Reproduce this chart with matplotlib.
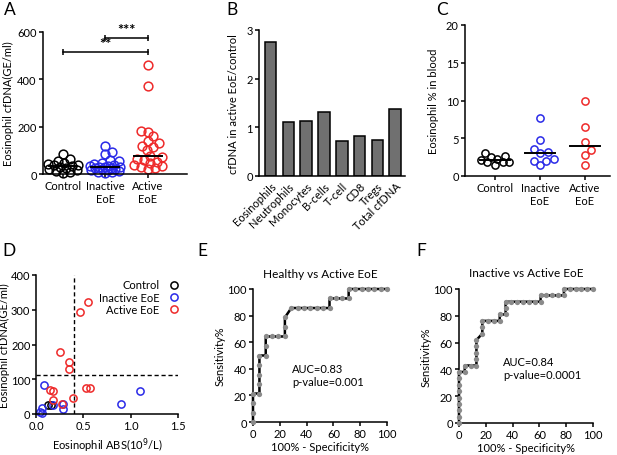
import numpy as np
import matplotlib
matplotlib.use("Agg")
import matplotlib.pyplot as plt

plt.rcParams['font.family'] = ['Lato', 'DejaVu Sans']
plt.rcParams['font.size'] = 8
plt.rcParams['axes.linewidth'] = 1.1
plt.rcParams['xtick.major.width'] = 1.1
plt.rcParams['ytick.major.width'] = 1.1
plt.rcParams['xtick.major.size'] = 3
plt.rcParams['ytick.major.size'] = 3

BLACK = '#000000'
BLUE = '#2a2ae8'
RED = '#ee2a2a'

# ---- panel A: eosinophil cfDNA (GE/ml)
a_groups = ['Control', 'Inactive\nEoE', 'Active\nEoE']
a_control = [85, 62, 55, 48, 42, 40, 36, 32, 28, 25, 22, 18, 12, 8, 5]
a_inactive = [120, 95, 85, 60, 55, 48, 42, 38, 35, 32, 30, 28, 28, 25, 25, 22, 20, 18, 15, 12, 10, 8, 5]
a_active = [460, 370, 180, 178, 160, 140, 130, 120, 115, 100, 75, 70, 65, 60, 50, 45, 40, 35, 30, 25, 20]

# ---- panel B: ratio active / control
b_cells = ['Eosinophils', 'Neutrophils', 'Monocytes', 'B-cells', 'T-cell', 'CD8', 'Tregs', 'Total cfDNA']
b_ratio = [2.75, 1.10, 1.12, 1.32, 0.72, 0.83, 0.75, 1.37]

# ---- panel C: eosinophil % in blood
c_control = [3.1, 2.6, 2.5, 2.3, 2.1, 1.9, 1.8, 1.8, 1.5]
c_inactive = [7.7, 4.8, 3.6, 3.2, 3.0, 2.3, 2.0, 2.0, 1.4]
c_active = [9.9, 6.5, 4.5, 3.4, 2.8, 1.5]

# ---- panel D: cfDNA vs absolute count
d_ctrl_x = [0.13, 0.16]
d_ctrl_y = [25, 26]
d_inact_x = [0.085, 0.04, 0.06, 0.06, 0.18, 0.29, 0.28, 0.90, 1.10]
d_inact_y = [83, 7, 3, 16, 25, 29, 14, 28, 66]
d_act_x = [0.55, 0.46, 0.25, 0.35, 0.35, 0.15, 0.18, 0.18, 0.39, 0.53, 0.57, 0.27]
d_act_y = [323, 294, 178, 149, 130, 69, 66, 40, 45, 75, 75, 30]
d_cut_x = 0.40
d_cut_y = 111

# ---- panel E / F: ROC curves (100% - specificity, sensitivity)
e_fpr = [0, 0, 0, 0, 4.8, 4.8, 4.8, 4.8, 4.8, 9.5, 9.5, 9.5, 14.3, 19.0, 23.8, 23.8, 23.8,
         28.6, 33.3, 38.1, 42.9, 47.6, 52.4, 57.1, 57.1, 61.9, 66.7, 71.4, 71.4,
         76.2, 81.0, 85.7, 90.5, 95.2, 100]
e_tpr = [0, 7.1, 14.3, 21.4, 21.4, 28.6, 35.7, 42.9, 50.0, 50.0, 57.1, 64.3, 64.3, 64.3, 64.3, 71.4, 78.6,
         85.7, 85.7, 85.7, 85.7, 85.7, 85.7, 85.7, 92.9, 92.9, 92.9, 92.9, 100,
         100, 100, 100, 100, 100, 100]
f_fpr = [0, 0, 0, 0, 0, 0, 0, 0, 0, 4.3, 4.3, 8.7, 13.0, 13.0, 13.0, 13.0, 13.0, 17.4, 17.4, 17.4,
         21.7, 26.1, 30.4, 30.4, 34.8, 34.8, 34.8, 39.1, 43.5, 47.8, 52.2, 56.5, 60.9, 60.9,
         65.2, 69.6, 73.9, 78.3, 78.3, 82.6, 87.0, 91.3, 95.7, 100]
f_tpr = [0, 4.8, 9.5, 14.3, 19.0, 23.8, 28.6, 33.3, 38.1, 38.1, 42.9, 42.9, 42.9, 47.6, 52.4, 57.1, 61.9, 66.7, 71.4, 76.2,
         76.2, 76.2, 76.2, 81.0, 81.0, 85.7, 90.5, 90.5, 90.5, 90.5, 90.5, 90.5, 90.5, 95.2,
         95.2, 95.2, 95.2, 95.2, 100, 100, 100, 100, 100, 100]


def swarm_offsets(vals, xscale, yscale, d, maxw):
    # simple beeswarm in pixel units, returns offsets in category units
    ys = np.asarray(vals, float) * yscale
    order = np.argsort(ys)
    cands = [0.0]
    for k in range(1, int(maxw) + 1):
        cands += [float(k), float(-k)]
    placed = []
    offs = np.zeros(len(ys))
    for i in order:
        best, bestd = 0.0, -1.0
        for c in cands:
            if not placed:
                best = c
                break
            dist = min(np.hypot(c - px, ys[i] - py) for px, py in placed)
            if dist >= d:
                best = c
                break
            if dist > bestd:
                best, bestd = c, dist
        placed.append((best, ys[i]))
        offs[i] = best / xscale
    return offs


def clean(ax):
    ax.spines['top'].set_visible(False)
    ax.spines['right'].set_visible(False)
    ax.tick_params(direction='out', labelsize=8, pad=1.5)


W, H = 617, 456
fig = plt.figure(figsize=(W / 100, H / 100), dpi=100)


def box(l, r, t, b):
    return [l / W, 1 - b / H, (r - l) / W, (b - t) / H]


# ------------------------------------------------ A
axA = fig.add_axes(box(43, 187, 33, 175))
clean(axA)
for i, (vals, col) in enumerate(zip([a_control, a_inactive, a_active], [BLACK, BLUE, RED])):
    pos = i + 1
    offs = swarm_offsets(vals, 42.5, 142 / 600, 6.5, 15)
    axA.plot(pos + offs, vals, 'o', mfc='none', mec=col, mew=1.1, ms=6.3, clip_on=False)
    axA.plot([pos - 0.33, pos + 0.33], [np.median(vals)] * 2, color=BLACK, lw=1.4, zorder=5)
axA.set_xlim(0.53, 3.92)
axA.set_ylim(0, 600)
axA.set_yticks([0, 200, 400, 600])
axA.set_xticks([1, 2, 3])
axA.set_xticklabels(a_groups)
axA.set_ylabel('Eosinophil cfDNA(GE/ml)', labelpad=2)
for x0, x1, y, s in [(2, 3, 575, '***'), (1, 3, 515, '**')]:
    axA.plot([x0, x1], [y, y], color=BLACK, lw=1.1, marker='|', ms=5, mew=1.1, clip_on=False)
    axA.text((x0 + x1) / 2, y + 4, s, ha='center', va='bottom', fontsize=10.5, fontweight='bold')

# ------------------------------------------------ B
axB = fig.add_axes(box(259, 405, 31, 177))
clean(axB)
xb = np.arange(len(b_cells))
axB.bar(xb, b_ratio, width=0.65, color='#707070', edgecolor=BLACK, linewidth=1.1)
axB.set_xlim(-0.66, 7.56)
axB.set_ylim(0, 3)
axB.set_yticks([0, 1, 2, 3])
axB.set_xticks(xb)
axB.set_xticklabels(b_cells, rotation=45, ha='right', rotation_mode='anchor')
axB.tick_params(axis='x', length=0, pad=3)
axB.set_ylabel('cfDNA in active EoE/control', labelpad=5)

# ------------------------------------------------ C
axC = fig.add_axes(box(465, 610, 26, 177))
clean(axC)
for i, (vals, col) in enumerate(zip([c_control, c_inactive, c_active], [BLACK, BLUE, RED])):
    pos = i + 1
    offs = swarm_offsets(vals, 45, 151 / 20, 7.5, 14)
    axC.plot(pos + offs, vals, 'o', mfc='none', mec=col, mew=1.1, ms=5.2, clip_on=False)
    axC.plot([pos - 0.33, pos + 0.33], [np.median(vals)] * 2, color=BLACK, lw=1.4, zorder=5)
axC.set_xlim(0.33, 3.56)
axC.set_ylim(0, 20)
axC.set_yticks([0, 5, 10, 15, 20])
axC.set_xticks([1, 2, 3])
axC.set_xticklabels(a_groups)
axC.set_ylabel('Eosinophil % in blood', labelpad=5)

# ------------------------------------------------ D
axD = fig.add_axes(box(36, 178, 276, 415))
clean(axD)
axD.plot(d_ctrl_x, d_ctrl_y, 'o', mfc='none', mec=BLACK, mew=1.1, ms=5.2, label='Control', clip_on=False)
axD.plot(d_inact_x, d_inact_y, 'o', mfc='none', mec=BLUE, mew=1.1, ms=5.2, label='Inactive EoE', clip_on=False)
axD.plot(d_act_x, d_act_y, 'o', mfc='none', mec=RED, mew=1.1, ms=5.2, label='Active EoE', clip_on=False)
axD.axvline(d_cut_x, color=BLACK, ls=(0, (3, 2)), lw=1.0)
axD.axhline(d_cut_y, color=BLACK, ls=(0, (3, 2)), lw=1.0)
axD.set_xlim(0, 1.5)
axD.set_ylim(0, 400)
axD.set_xticks([0, 0.5, 1.0, 1.5])
axD.set_xticklabels(['0.0', '0.5', '1.0', '1.5'])
axD.set_yticks([0, 100, 200, 300, 400])
axD.tick_params(axis='y', pad=1)
axD.set_xlabel('Eosinophil ABS(10$^9$/L)', labelpad=3)
axD.set_ylabel('Eosinophil cfDNA(GE/ml)', labelpad=0.5)
axD.legend(loc='upper right', bbox_to_anchor=(1.08, 1.04), frameon=False, markerfirst=False,
           fontsize=8, handlelength=1.0, handletextpad=0.8, labelspacing=0.1)

# ------------------------------------------------ E / F
for rect, fpr, tpr, title, auc, pval, tx, ty in [
        (box(253, 387, 290, 423), e_fpr, e_tpr, 'Healthy vs Active EoE', 'AUC=0.83', 'p-value=0.001', 29, 40),
        (box(459, 593, 290, 424), f_fpr, f_tpr, 'Inactive vs Active EoE', 'AUC=0.84', 'p-value=0.0001', 33, 46)]:
    ax = fig.add_axes(rect)
    clean(ax)
    ax.plot(fpr, tpr, color=BLACK, lw=1.8, zorder=3, clip_on=False)
    ax.plot(fpr, tpr, 'o', color='#8a8a8a', ms=3.8, mew=0, zorder=4, clip_on=False)
    ax.set_xlim(0, 100)
    ax.set_ylim(0, 100)
    ax.set_xticks(range(0, 101, 20))
    ax.set_yticks(range(0, 101, 20))
    ax.set_xlabel('100% - Specificity%', labelpad=1)
    ax.set_ylabel('Sensitivity%', labelpad=1)
    ax.set_title(title, fontsize=8.5, pad=9)
    ax.text(tx, ty, auc, fontsize=8, va='center')
    ax.text(tx, ty - 9.5, pval, fontsize=8, va='center')

# panel letters
for s, x, y in [('A', 10, 10), ('B', 232, 10), ('C', 442, 10), ('D', 9, 251), ('E', 202, 251), ('F', 421, 251)]:
    fig.text(x / W, 1 - y / H, s, fontsize=12.5, ha='center', va='center')

fig.savefig('out.png', dpi=100)
